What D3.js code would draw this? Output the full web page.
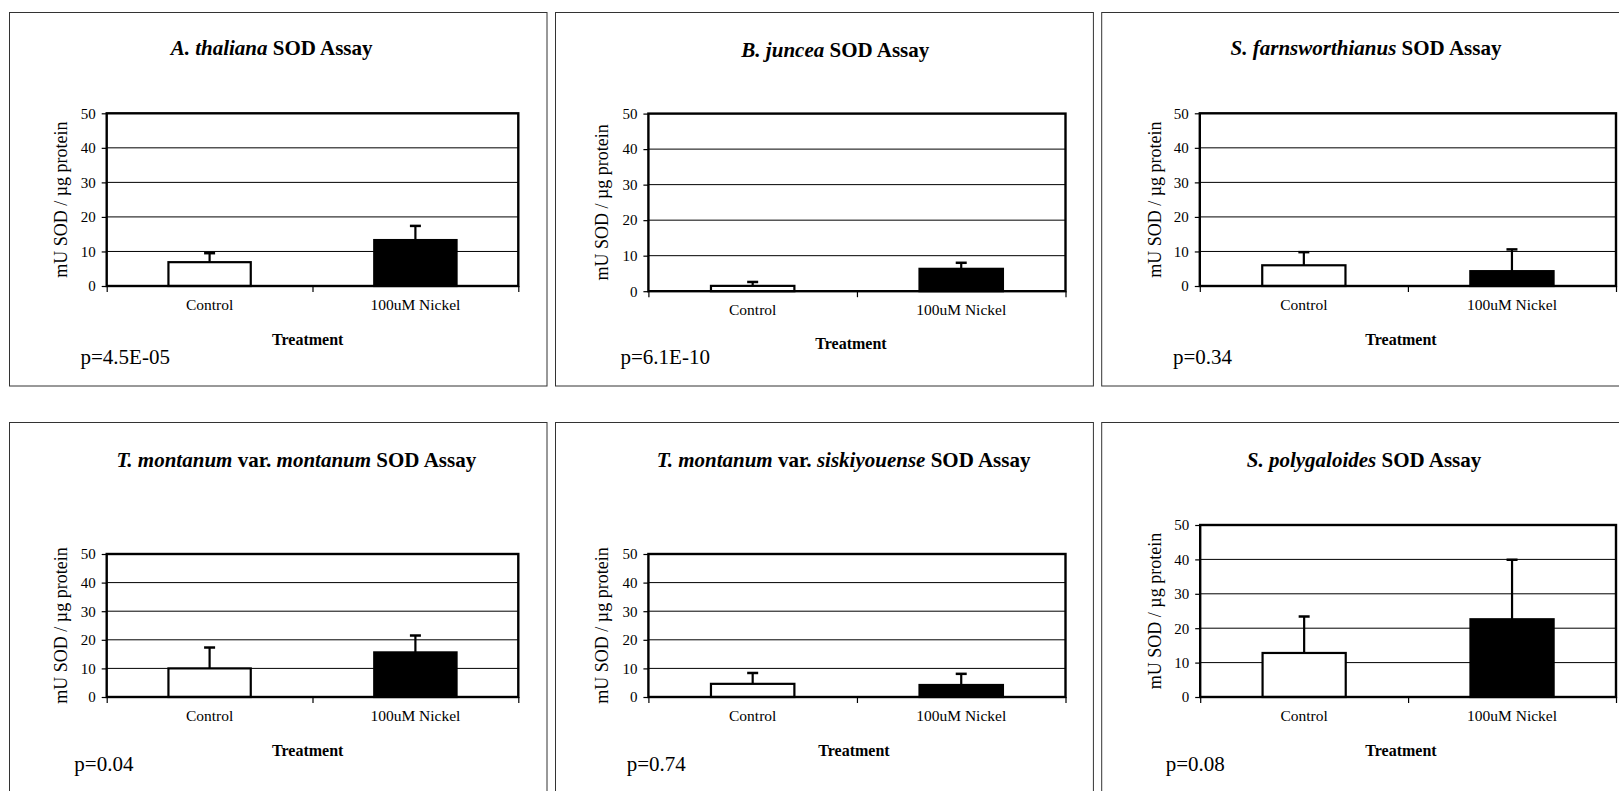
<!DOCTYPE html>
<html><head><meta charset="utf-8">
<script src="https://cdn.jsdelivr.net/npm/d3@7"></script>
<style>
body{margin:0;background:#fff;}
svg{display:block;}
text, tspan{font-family:"Liberation Serif","Times New Roman",serif;fill:#000;}
</style>
</head><body><svg id="c" width="1619" height="791"></svg>
<script>
// ---- data ----
const categories = ["Control", "100uM Nickel"];
const yTicks = [0, 10, 20, 30, 40, 50];
const speciesTitles = [
  [["A. thaliana", true], [" SOD Assay", false]],
  [["B. juncea", true], [" SOD Assay", false]],
  [["S. farnsworthianus", true], [" SOD Assay", false]],
  [["T. montanum", true], [" var. ", false], ["montanum", true], [" SOD Assay", false]],
  [["T. montanum", true], [" var. ", false], ["siskiyouense", true], [" SOD Assay", false]],
  [["S. polygaloides", true], [" SOD Assay", false]]
];
const controlMeans  = [6.9, 1.5, 6.0, 10.0, 4.6, 12.8];
const controlErrors = [2.6, 1.1, 3.8, 7.3, 3.8, 10.6];
const nickelMeans   = [13.3, 6.3, 4.3, 15.6, 4.2, 22.6];
const nickelErrors  = [4.1, 1.7, 6.3, 5.9, 3.9, 17.3];
const pValues = ["p=4.5E-05", "p=6.1E-10", "p=0.34", "p=0.04", "p=0.74", "p=0.08"];
const xAxisTitle = "Treatment";
const yAxisTitle = "mU SOD / µg protein";
const barFills = ["#ffffff", "#000000"];

// ---- layout ----
const FONT = "Liberation Serif, Times New Roman, serif";
const layout = [
  {frame:[9.5,12.5,547,386], plot:[106.7,113.3,518.3,286], tx:271.6, ty:55, yl:61, trx:307.7, tr:345, px:80.5, py:364},
  {frame:[555.5,12.5,1093.4,386], plot:[648.4,113.6,1065.5,291.2], tx:835.3, ty:57, yl:602, trx:851, tr:349, px:620.5, py:364},
  {frame:[1101.7,12.5,1640,386], plot:[1199.8,113.3,1616,286], tx:1366, ty:55, yl:1155, trx:1401, tr:345, px:1173, py:364},
  {frame:[9.5,422.5,547,800], plot:[106.7,554,518.3,697], tx:296.3, ty:467, yl:61, trx:307.7, tr:756, px:74.3, py:771},
  {frame:[555.5,422.5,1093.4,800], plot:[648.4,554,1065.5,697], tx:843.6, ty:467, yl:602, trx:854, tr:756, px:626.7, py:771},
  {frame:[1101.7,422.5,1640,800], plot:[1200.2,525,1616,697], tx:1364, ty:467, yl:1155, trx:1401, tr:756, px:1165.7, py:771}
];

const svg = d3.select("#c");

layout.forEach((L, i) => {
  const g = svg.append("g");
  const [fx0, fy0, fx1, fy1] = L.frame;
  g.append("rect").attr("x", fx0).attr("y", fy0).attr("width", fx1 - fx0).attr("height", fy1 - fy0)
    .attr("fill", "#fff").attr("stroke", "#333").attr("stroke-width", 1);

  const [x0, y0, x1, y1] = L.plot;
  const x = d3.scaleBand().domain(categories).range([x0, x1]).paddingInner(0.6).paddingOuter(0.3);
  const y = d3.scaleLinear().domain([0, 50]).range([y1, y0]);
  const xb = d3.scaleLinear().domain([0, categories.length]).range([x0, x1]);

  // gridlines
  g.append("g").selectAll("line").data(yTicks.slice(1, -1)).join("line")
    .attr("x1", x0).attr("x2", x1).attr("y1", d => y(d)).attr("y2", d => y(d))
    .attr("stroke", "#000").attr("stroke-width", 1);

  // y axis
  const ya = g.append("g").attr("transform", `translate(${x0},0)`)
    .call(d3.axisLeft(y).tickValues(yTicks).tickSize(5).tickPadding(6).tickFormat(d3.format("d")));
  ya.attr("font-family", FONT);
  ya.select(".domain").remove();
  ya.selectAll(".tick line").attr("stroke", "#000").attr("stroke-width", 1.2);
  ya.selectAll(".tick text").attr("font-family", FONT).attr("font-size", 15).attr("fill", "#000");

  // x axis tick marks at band boundaries
  const xt = g.append("g").attr("transform", `translate(0,${y1})`)
    .call(d3.axisBottom(xb).tickValues(d3.range(categories.length + 1)).tickSize(6).tickFormat(""));
  xt.select(".domain").remove();
  xt.selectAll(".tick line").attr("stroke", "#000").attr("stroke-width", 1.2);

  // category labels
  const xa = g.append("g").attr("transform", `translate(0,${y1})`)
    .call(d3.axisBottom(x).tickSize(0).tickPadding(13));
  xa.attr("font-family", FONT);
  xa.select(".domain").remove();
  xa.selectAll(".tick text").attr("font-family", FONT).attr("font-size", 15.5).attr("fill", "#000");

  // bars
  const means = [controlMeans[i], nickelMeans[i]];
  const errs = [controlErrors[i], nickelErrors[i]];
  const bd = categories.map((c, k) => ({c, v: means[k], e: errs[k], fill: barFills[k]}));

  // error bars
  const eb = g.append("g").selectAll("g").data(bd).join("g");
  eb.append("line")
    .attr("x1", d => x(d.c) + x.bandwidth() / 2).attr("x2", d => x(d.c) + x.bandwidth() / 2)
    .attr("y1", d => y(d.v)).attr("y2", d => y(d.v + d.e))
    .attr("stroke", "#000").attr("stroke-width", 2.2);
  eb.append("line")
    .attr("x1", d => x(d.c) + x.bandwidth() / 2 - 5.5).attr("x2", d => x(d.c) + x.bandwidth() / 2 + 5.5)
    .attr("y1", d => y(d.v + d.e)).attr("y2", d => y(d.v + d.e))
    .attr("stroke", "#000").attr("stroke-width", 2.5);

  g.append("g").selectAll("rect").data(bd).join("rect")
    .attr("x", d => x(d.c)).attr("width", x.bandwidth())
    .attr("y", d => y(d.v)).attr("height", d => y(0) - y(d.v))
    .attr("fill", d => d.fill).attr("stroke", "#000").attr("stroke-width", 2.2);

  // plot border
  g.append("rect").attr("x", x0).attr("y", y0).attr("width", x1 - x0).attr("height", y1 - y0)
    .attr("fill", "none").attr("stroke", "#000").attr("stroke-width", 2.4);

  // title
  const t = g.append("text").attr("x", L.tx).attr("y", L.ty).attr("text-anchor", "middle")
    .attr("font-family", FONT).attr("font-size", 21).attr("font-weight", "bold");
  speciesTitles[i].forEach(([s, it]) => {
    t.append("tspan").text(s).attr("font-family", FONT).attr("font-weight", "bold")
      .attr("font-style", it ? "italic" : "normal");
  });

  // y axis title
  g.append("text").attr("transform", `translate(${L.yl},${(y0 + y1) / 2}) rotate(-90)`)
    .attr("text-anchor", "middle").attr("dominant-baseline", "central")
    .attr("font-family", FONT).attr("font-size", 18).text(yAxisTitle);

  // x axis title
  g.append("text").attr("x", L.trx).attr("y", L.tr).attr("text-anchor", "middle")
    .attr("font-family", FONT).attr("font-size", 16).attr("font-weight", "bold").text(xAxisTitle);

  // p value
  g.append("text").attr("x", L.px).attr("y", L.py).attr("font-family", FONT)
    .attr("font-size", 21).text(pValues[i]);
});
</script>
</body></html>
